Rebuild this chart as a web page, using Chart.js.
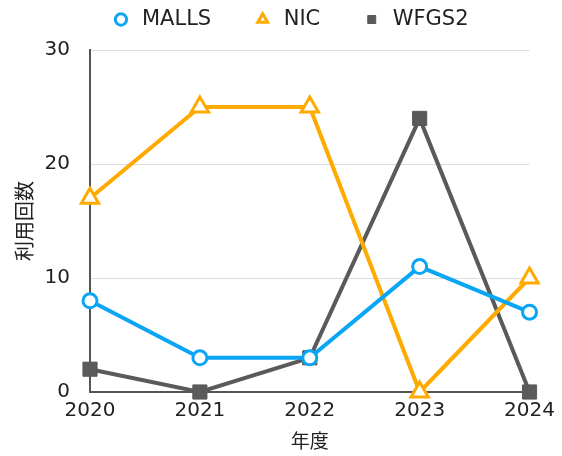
<!DOCTYPE html>
<html>
<head>
<meta charset="utf-8">
<script src="https://cdn.jsdelivr.net/npm/chart.js@4/dist/chart.umd.min.js"></script>
<style>
  html, body { margin: 0; padding: 0; background: #fff; }
  #wrap { width: 562px; height: 456px; }
</style>
</head>
<body>
<div id="wrap"><canvas id="usageChart" width="562" height="456"></canvas></div>
<script>
const years = ['2020', '2021', '2022', '2023', '2024'];
const mallsData = [8, 3, 3, 11, 7];
const nicData = [17, 25, 25, 0, 10];
const wfgs2Data = [2, 0, 3, 24, 0];
const yTicks = [0, 10, 20, 30];

const latin = "'DejaVu Sans', 'Noto Sans CJK JP', sans-serif";
const cjk = "'Noto Sans CJK JP', sans-serif";

Chart.defaults.font.family = latin;
Chart.defaults.color = '#222';

// legend: wide gaps between items, short box, sits a bit right of centre
const legendBox = {
    id: 'legendBox',
    beforeInit(chart) {
        const fit = chart.legend.fit;
        chart.legend.fit = function() {
            fit.call(this);
            this.height = 82;
        };
    },
    afterLayout(chart) {
        chart.legend.left += 24;
        chart.legend.right += 24;
    }
};

new Chart(document.getElementById('usageChart'), {
    type: 'line',
    data: {
        labels: years,
        datasets: [{
            label: 'MALLS',
            data: mallsData,
            borderColor: '#0aa5f5',
            backgroundColor: '#ffffff',
            borderWidth: 4,
            pointStyle: 'circle',
            pointRadius: 7,
            pointBorderWidth: 3,
            clip: false
        }, {
            label: 'NIC',
            data: nicData,
            borderColor: '#ffaa00',
            backgroundColor: '#ffffff',
            borderWidth: 4,
            pointStyle: 'triangle',
            pointRadius: 10,
            pointBorderWidth: 3,
            clip: false
        }, {
            label: 'WFGS2',
            data: wfgs2Data,
            borderColor: '#5a5a5a',
            backgroundColor: '#5a5a5a',
            borderWidth: 4,
            pointStyle: 'rect',
            pointRadius: 10,
            pointBorderWidth: 1,
            clip: false
        }]
    },
    options: {
        responsive: false,
        animation: false,
        layout: { padding: { left: 0, right: 31, top: -32, bottom: 0 } },
        plugins: {
            legend: {
                position: 'top',
                labels: {
                    usePointStyle: true,
                    boxWidth: 21,
                    boxHeight: 8,
                    padding: 41,
                    font: { size: 21 },
                    color: '#222'
                }
            },
            tooltip: { enabled: false }
        },
        scales: {
            x: {
                offset: false,
                grid: { display: false, drawTicks: false },
                border: { display: true, color: '#555', width: 2 },
                ticks: { font: { size: 20 }, padding: 7, maxRotation: 0, color: '#222' },
                title: { display: true, text: '年度', font: { family: cjk, size: 19 }, padding: { top: 0 }, color: '#222' },
                afterFit: function(scale) { scale.height = 64; }
            },
            y: {
                min: 0,
                max: 30,
                afterBuildTicks: function(scale) {
                    scale.ticks = yTicks.map(function(v) { return { value: v }; });
                },
                grid: { color: '#dddddd', drawTicks: false, lineWidth: 1 },
                border: { display: true, color: '#555', width: 2 },
                ticks: { font: { size: 20 }, padding: 20, color: '#222' },
                title: { display: true, text: '利用回数', font: { family: cjk, size: 20 }, padding: { top: 12, bottom: 0 }, color: '#222' },
                afterFit: function(scale) { scale.width = 90; }
            }
        }
    },
    plugins: [legendBox]
});
</script>
</body>
</html>
